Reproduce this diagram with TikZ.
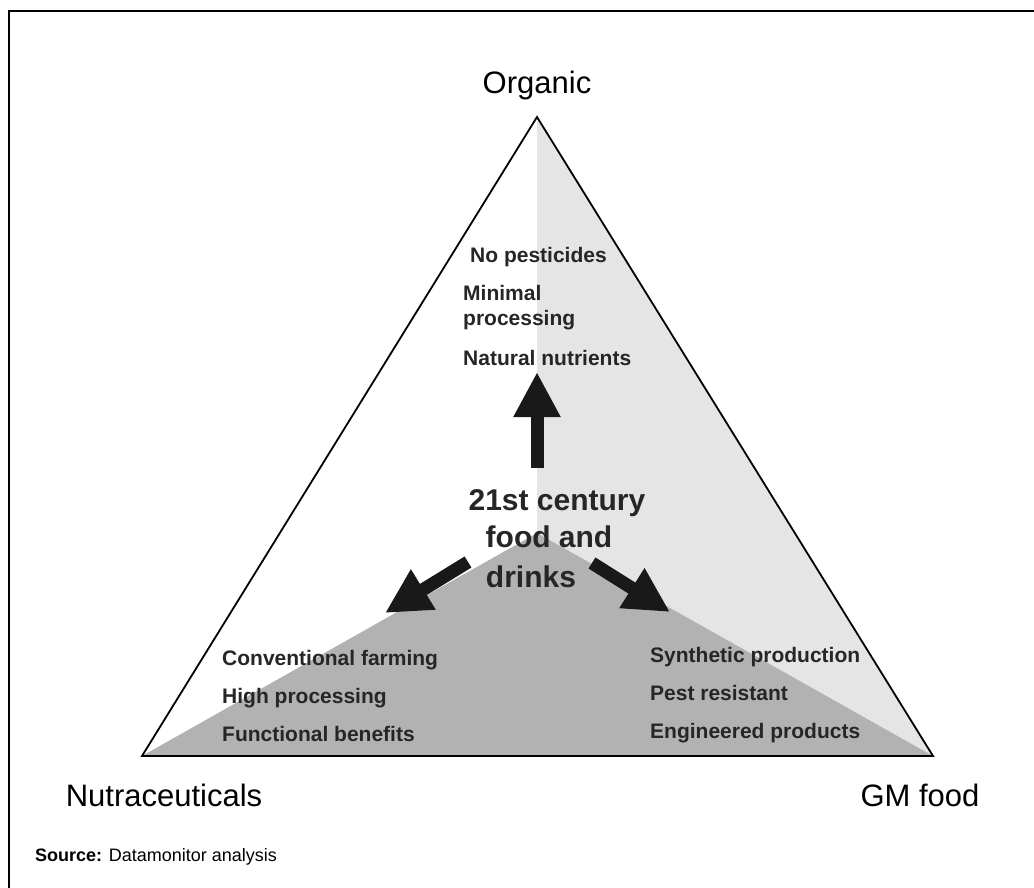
\documentclass[tikz,border=0pt]{standalone}
\usepackage{fontspec}
\setmainfont{Liberation Sans}
\usetikzlibrary{positioning, arrows.meta}

\definecolor{paleshade}{gray}{0.90}
\definecolor{darkshade}{gray}{0.70}
\definecolor{inkgray}{gray}{0.15}

\tikzset{
  corner/.style={font=\fontsize{31}{36}\selectfont, anchor=base, inner sep=0pt},
  item/.style={font=\bfseries\fontsize{21}{25}\selectfont, text=inkgray, anchor=base west, inner sep=0pt},
  hub/.style={font=\bfseries\fontsize{30}{35}\selectfont, text=inkgray, anchor=base, inner sep=0pt},
  fat/.style={line width=13pt, -{Triangle[width=44pt,length=45pt]}, draw=black!90},
}

\begin{document}
\begin{tikzpicture}[x=1pt, y=-1pt, node distance=38pt, on grid]
  \useasboundingbox (0,0) rectangle (1034,888);
  \clip (0,0) rectangle (1034,888);
  \draw[line width=2.5pt] (9,11) rectangle (1060,920);

  % triangle and its three shaded parts
  \coordinate (top) at (537,117);
  \coordinate (bl) at (142,756);
  \coordinate (br) at (933,756);
  \coordinate (mid) at (537,533);
  \fill[paleshade] (top) -- (mid) -- (br) -- cycle;
  \fill[darkshade] (bl) -- (mid) -- (br) -- cycle;
  \draw[line width=1.8pt] (top) -- (bl) -- (br) -- cycle;

  % corner labels
  \node[corner] (organic) at (537,94) {Organic};
  \node[corner] (nutra) at (164,806) {Nutraceuticals};
  \node[corner] (gm) at (920,806) {GM food};
  \node[anchor=base west, inner sep=0pt, font=\fontsize{18}{22}\selectfont] (source)
    at (35,861) {\textbf{Source:} Datamonitor analysis};

  % organic side
  \node[item] (nopest) at (470,262) {No pesticides};
  \node[item] (minimal) at (463,300) {Minimal};
  \node[item] (proc) [below=25pt of minimal.base west, anchor=base west] {processing};
  \node[item] (natural) [below=40pt of proc.base west, anchor=base west] {Natural nutrients};

  % nutraceuticals side
  \node[item] (conv) at (222,665) {Conventional farming};
  \node[item] (high) [below=of conv.base west, anchor=base west] {High processing};
  \node[item] (func) [below=of high.base west, anchor=base west] {Functional benefits};

  % GM side
  \node[item] (synth) at (650,662) {Synthetic production};
  \node[item] (pest) [below=of synth.base west, anchor=base west] {Pest resistant};
  \node[item] (eng) [below=of pest.base west, anchor=base west] {Engineered products};

  % centre
  \node[hub] (hubA) at (557,510) {21st century};
  \node[hub] (hubB) at (549,547) {food and};
  \node[hub] (hubC) at (531,587) {drinks};

  \coordinate (upTail) at (537,468);
  \coordinate (upTip) at (537,372);
  \coordinate (leftTail) at (468,562);
  \coordinate (leftTip) at (385,613);
  \coordinate (rightTail) at (592,563);
  \coordinate (rightTip) at (670,612);

  \draw[fat] (upTail) -- (upTip);
  \draw[fat] (leftTail) -- (leftTip);
  \draw[fat] (rightTail) -- (rightTip);
\end{tikzpicture}
\end{document}
